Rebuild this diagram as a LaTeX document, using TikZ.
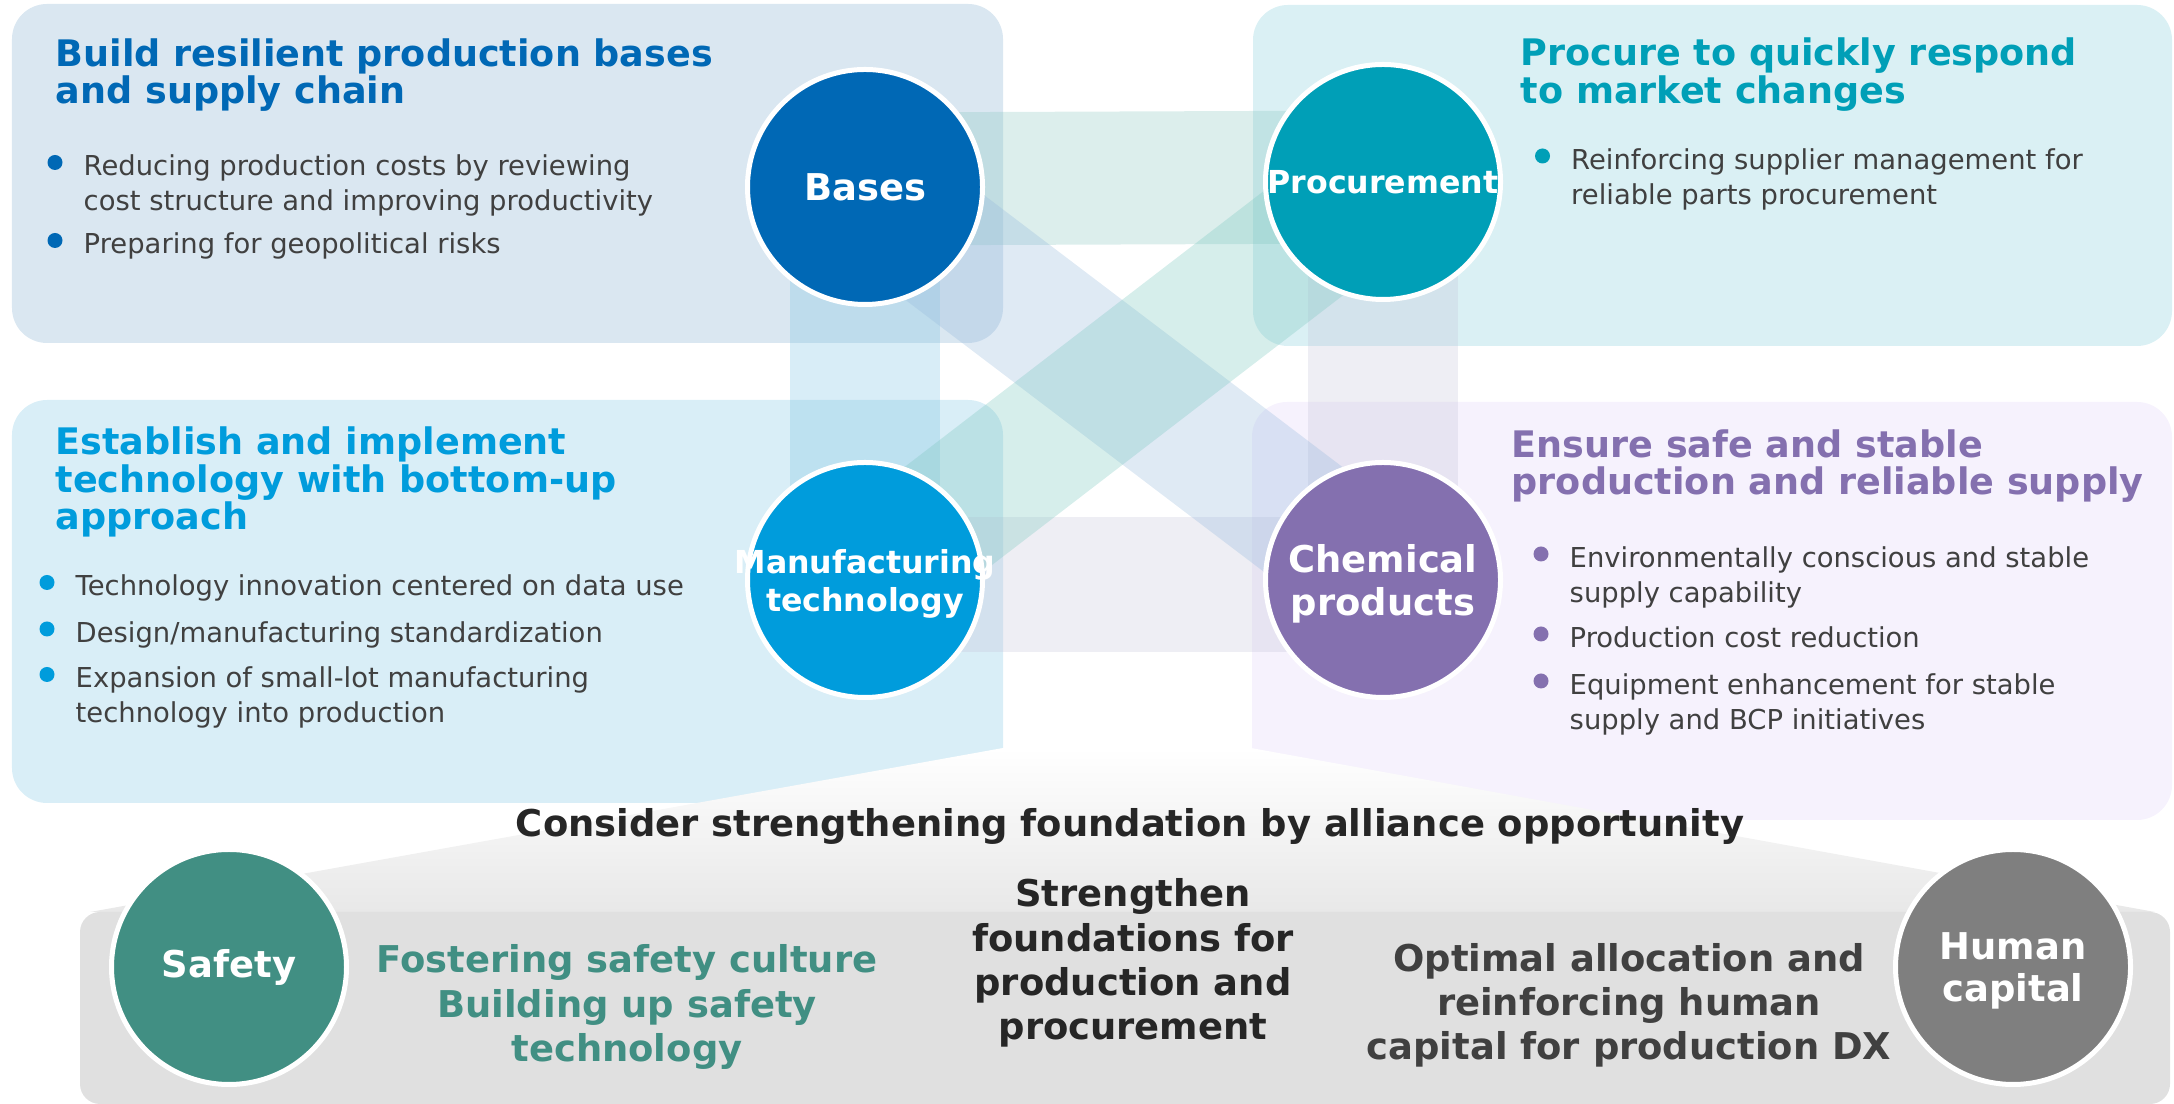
\documentclass[tikz,border=0pt]{standalone}
\usepackage{fontspec}
\setmainfont{DejaVu Sans}
\usepackage{tikz}
\usetikzlibrary{positioning}

\pgfdeclarelayer{panels}
\pgfdeclarelayer{links}
\pgfsetlayers{panels,links,main}

\begin{document}
\begin{tikzpicture}[font=\fontsize{7.8}{10}\selectfont]

\definecolor{basesblue}{HTML}{0068B5}
\definecolor{procteal}{HTML}{009FB7}
\definecolor{manufblue}{HTML}{009CDC}
\definecolor{chempurple}{HTML}{8470AF}
\definecolor{safetygreen}{HTML}{418F83}
\definecolor{humangrey}{HTML}{7F7F7F}
\definecolor{basespanel}{HTML}{DAE7F1}
\definecolor{procpanel}{HTML}{DAF0F4}
\definecolor{manufpanel}{HTML}{D9EEF7}
\definecolor{chempanel}{HTML}{F6F2FD}
\definecolor{bodygrey}{HTML}{404040}
\definecolor{darkgrey}{HTML}{262626}
\definecolor{roofgrey}{HTML}{E8E8E8}
\definecolor{floorgrey}{HTML}{E0E0E0}
\definecolor{linkteal}{HTML}{8AC6C0}
\definecolor{linkblue}{HTML}{7FC3E3}
\definecolor{linklilac}{HTML}{C6C6DA}
\definecolor{linkcross}{HTML}{94B8DC}
\definecolor{linkrise}{HTML}{78C6BE}

\tikzset{
  panel/.style={rounded corners=3.5mm},
  hub/.style={
    circle, draw=white, line width=0.5mm, minimum size=2.35cm, inner sep=0pt
  },
  hubtext/.style={
    align=center, inner sep=0pt, text=white,
    font=\fontsize{10.5}{12.1}\selectfont\bfseries
  },
  smallhub/.style={font=\fontsize{9}{10.6}\selectfont\bfseries},
  linkband/.style={line width=#1, draw opacity=0.3},
  % multi-line nodes: base is the baseline of the last line
  pillartitle/.style={
    anchor=base west, align=left, inner sep=0pt,
    font=\fontsize{10.4}{10.8}\selectfont\bfseries
  },
  itemtext/.style={anchor=north west, align=left, inner sep=0pt, text=bodygrey},
  itemdot/.style={circle, inner sep=0pt, minimum size=1.5mm},
  basetext/.style={
    anchor=base, align=center, inner sep=0pt,
    font=\fontsize{10.5}{12.65}\selectfont\bfseries
  }
}

% One bullet line: coloured dot, first text baseline 1.25mm below it.
\newcommand{\pillarItem}[5]{%
  \node[itemdot, fill=#2] (#1dot) at (#3,#4) {};
  \node[itemtext] (#1) at ([xshift=2.8mm,yshift=0.84mm]#1dot.center) {#5};
}

\useasboundingbox (0,0) rectangle (21.74,-11.04);

% Pillar panels.
\begin{pgfonlayer}{panels}
  \fill[panel, basespanel] (0.12,-0.04) rectangle (10.03,-3.43);
  \fill[panel, procpanel]  (12.53,-0.05) rectangle (21.72,-3.46);
  \fill[panel, manufpanel] (0.12,-4.00) rectangle (10.03,-8.03);
  \fill[panel, chempanel]  (12.52,-4.02) rectangle (21.72,-8.20);
  % Roof of the foundation, fading into the grey floor.
  \shade[top color=white, bottom color=roofgrey]
    (0.90,-9.12) -- (10.03,-7.48) -- (12.51,-7.48) -- (21.55,-9.12) -- cycle;
  \fill[floorgrey, rounded corners=2mm] (0.80,-9.12) rectangle (21.70,-11.04);
\end{pgfonlayer}

% Hubs.
\node[hub, fill=basesblue]   (bases)   at (8.65,-1.87)  {};
\node[hub, fill=procteal]    (procure) at (13.83,-1.82) {};
\node[hub, fill=manufblue]   (manuf)   at (8.65,-5.80)  {};
\node[hub, fill=chempurple]  (chem)    at (13.83,-5.80) {};
\node[hub, fill=safetygreen] (safety)  at (2.29,-9.67)  {};
\node[hub, fill=humangrey]   (human)   at (20.13,-9.67) {};

\node[hubtext] (baseslabel) at (bases) {Bases};
\node[hubtext, smallhub] (procurelabel) at (procure) {Procurement};
\node[hubtext, smallhub] (manuflabel) at ([yshift=-0.4mm]manuf.center)
  {Manufacturing\\technology};
\node[hubtext] (chemlabel) at ([yshift=-0.4mm]chem.center) {Chemical\\products};
\node[hubtext] (safetylabel) at (safety) {Safety};
\node[hubtext] (humanlabel) at ([yshift=-0.4mm]human.center) {Human\\capital};

% Wide translucent links between the four hubs.
\begin{pgfonlayer}{links}
  \draw[linkband=1.33cm, draw=linkteal]
    ([yshift=0.08cm]bases.center) -- ([yshift=0.05cm]procure.center);
  \draw[linkband=1.5cm, draw=linkblue] (bases.center) -- (manuf.center);
  \draw[linkband=1.5cm, draw=linklilac] (procure.center) -- (chem.center);
  \draw[linkband=1.35cm, draw=linklilac]
    ([yshift=-0.045cm]manuf.center) -- ([yshift=-0.045cm]chem.center);
  \draw[linkband=1.31cm, draw=linkcross] (bases.center) -- (chem.center);
  \draw[linkband=1.31cm, draw=linkrise] (manuf.center) -- (procure.center);
\end{pgfonlayer}

% Bases pillar.
\node[pillartitle, text=basesblue] (basestitle) at (0.55,-1.04)
  {Build resilient production bases\\and supply chain};
\pillarItem{basesone}{basesblue}{0.55}{-1.625}
  {Reducing production costs by reviewing\\cost structure and improving productivity}
\pillarItem{basestwo}{basesblue}{0.55}{-2.405}
  {Preparing for geopolitical risks}

% Procurement pillar.
\node[pillartitle, text=procteal] (procuretitle) at (15.20,-1.036)
  {Procure to quickly respond\\to market changes};
\pillarItem{procureone}{procteal}{15.425}{-1.56}
  {Reinforcing supplier management for\\reliable parts procurement}

% Manufacturing technology pillar.
\node[pillartitle, text=manufblue] (manuftitle) at (0.55,-5.30)
  {Establish and implement\\technology with bottom-up\\approach};
\pillarItem{manufone}{manufblue}{0.47}{-5.825}
  {Technology innovation centered on data use}
\pillarItem{manuftwo}{manufblue}{0.47}{-6.29}
  {Design/manufacturing standardization}
\pillarItem{manufthree}{manufblue}{0.47}{-6.745}
  {Expansion of small-lot manufacturing\\technology into production}

% Chemical products pillar.
\node[pillartitle, text=chempurple] (chemtitle) at (15.11,-4.95)
  {Ensure safe and stable\\production and reliable supply};
\pillarItem{chemone}{chempurple}{15.41}{-5.54}
  {Environmentally conscious and stable\\supply capability}
\pillarItem{chemtwo}{chempurple}{15.41}{-6.34}
  {Production cost reduction}
\pillarItem{chemthree}{chempurple}{15.41}{-6.81}
  {Equipment enhancement for stable\\supply and BCP initiatives}

% Foundation texts.
\node[basetext, text=darkgrey] (alliance) at (11.30,-8.37)
  {Consider strengthening foundation by alliance opportunity};
\node[basetext, text=darkgrey] (foundation) at (11.33,-10.40)
  {Strengthen\\foundations for\\production and\\procurement};
\node[basetext, text=safetygreen] (safetytext) at (6.27,-10.617)
  {Fostering safety culture\\Building up safety\\technology};
\node[basetext, text=bodygrey] (humantext) at (16.29,-10.60)
  {Optimal allocation and\\reinforcing human\\capital for production DX};

\end{tikzpicture}
\end{document}
